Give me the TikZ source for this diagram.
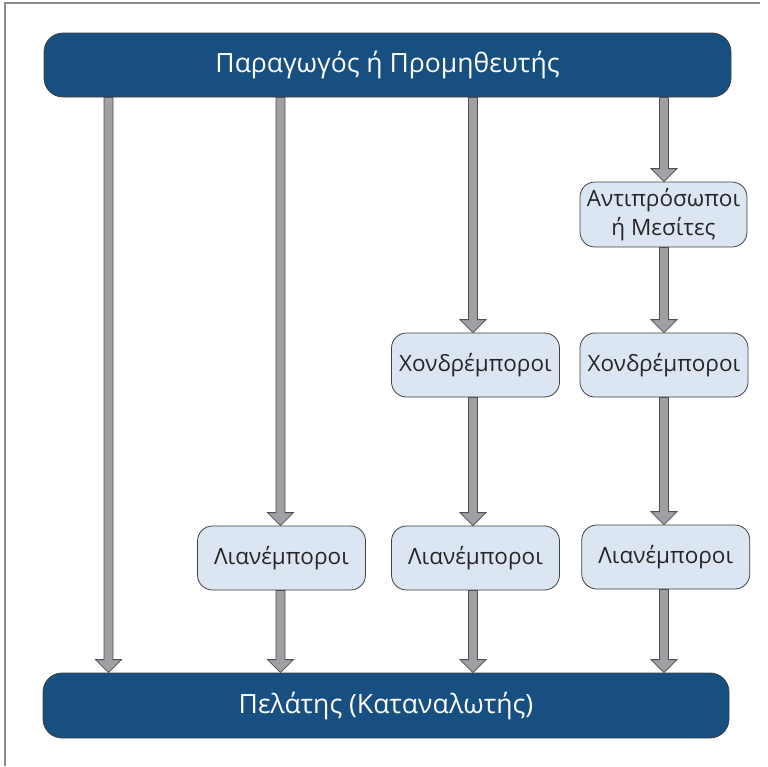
\documentclass[tikz,border=0pt]{standalone}
\usepackage{fontspec}
\setmainfont{Open Sans}
\usetikzlibrary{calc}
\definecolor{barblue}{RGB}{23,79,128}
\definecolor{boxfill}{RGB}{220,230,242}
\definecolor{arrfill}{RGB}{160,160,164}
\definecolor{arrline}{RGB}{80,80,80}
\definecolor{edgecol}{RGB}{64,64,64}
\definecolor{framecol}{RGB}{140,140,140}
\tikzset{
  bar/.style={draw=edgecol, line width=0.8pt, fill=barblue, text=white,
    rounded corners=19pt, inner sep=0pt, font=\fontsize{26.5}{30}\selectfont},
  agentbox/.style={draw=edgecol, line width=0.8pt, fill=boxfill, text=black!85,
    rounded corners=15pt, inner sep=0pt, minimum width=168pt, minimum height=64pt,
    align=center, font=\fontsize{22.5}{29}\selectfont},
  fat/.style={draw=arrline, fill=arrfill, line width=0.8pt,
    to path={let \p1=(\tikztostart), \p2=(\tikztotarget) in
      (\x1-4.5pt,\y1) -- (\x1-4.5pt,\y2+13pt) -- (\x1-13pt,\y2+13pt) -- (\x1,\y2)
      -- (\x1+13pt,\y2+13pt) -- (\x1+4.5pt,\y2+13pt) -- (\x1+4.5pt,\y1) -- cycle}}
}
\begin{document}
\begin{tikzpicture}[x=1pt,y=-1pt]
\useasboundingbox (0,0) rectangle (768,766);
\draw[framecol, line width=1.2pt] (5,766) -- (5,3) -- (760,3);
% columns
\coordinate (c1) at (108.5,0);
\coordinate (c2) at (280.5,0);
\coordinate (c3) at (473,0);
\coordinate (c4) at (664,0);
% nodes
\node[bar, minimum width=687pt, minimum height=64pt] (top) at (387.5,65) {Παραγωγός ή Προμηθευτής};
\node[bar, minimum width=686pt, minimum height=65pt] (bot) at (386,705.5) {Πελάτης (Καταναλωτής)};
\node[agentbox, minimum width=167pt, minimum height=65pt] (agent) at (663.5,214.5) {Αντιπρόσωποι\\ή Μεσίτες};
\node[agentbox] (x3) at (475.5,365) {Χονδρέμποροι};
\node[agentbox] (x4) at (664,365) {Χονδρέμποροι};
\node[agentbox] (l2) at (281.5,558) {Λιανέμποροι};
\node[agentbox] (l3) at (475.5,558) {Λιανέμποροι};
\node[agentbox] (l4) at (665.8,557) {Λιανέμποροι};
% arrows
\draw[fat] (top.south -| c1) to (bot.north -| c1);
\draw[fat] (top.south -| c2) to (l2.north -| c2);
\draw[fat] (l2.south -| c2) to (bot.north -| c2);
\draw[fat] (top.south -| c3) to (x3.north -| c3);
\draw[fat] (x3.south -| c3) to (l3.north -| c3);
\draw[fat] (l3.south -| c3) to (bot.north -| c3);
\draw[fat] (top.south -| c4) to (agent.north -| c4);
\draw[fat] (agent.south -| c4) to (x4.north -| c4);
\draw[fat] (x4.south -| c4) to (l4.north -| c4);
\draw[fat] (l4.south -| c4) to (bot.north -| c4);
\end{tikzpicture}
\end{document}
